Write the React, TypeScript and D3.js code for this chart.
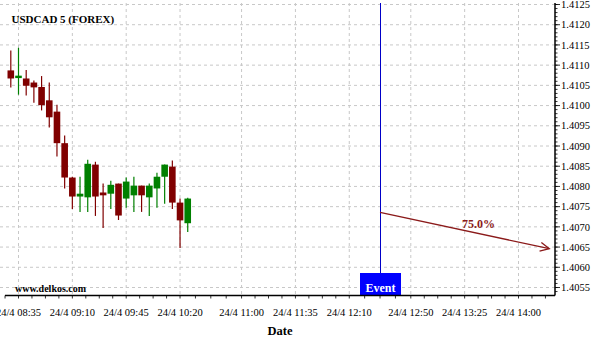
import React from "react";
import * as d3 from "d3";

const title = "USDCAD 5 (FOREX)";
const candleTimes = ["08:30","08:35","08:40","08:45","08:50","08:55","09:00","09:05","09:10","09:15","09:20","09:25","09:30","09:35","09:40","09:45","09:50","09:55","10:00","10:05","10:10","10:15","10:20","10:25"];
const opens = [1.41087,1.41068,1.41067,1.41057,1.41046,1.41013,1.40985,1.40907,1.40822,1.40775,1.40773,1.40854,1.40785,1.40782,1.40807,1.40770,1.40778,1.40802,1.40773,1.40795,1.40824,1.40849,1.40760,1.40709];
const closes = [1.41067,1.41074,1.41049,1.41045,1.41001,1.40971,1.40907,1.40822,1.40775,1.40782,1.40856,1.40775,1.40778,1.40804,1.40728,1.40812,1.40802,1.40778,1.40802,1.40824,1.40854,1.40760,1.40716,1.40770];
const highs = [1.41136,1.41143,1.41088,1.41062,1.41073,1.41057,1.41002,1.40926,1.40824,1.40824,1.40866,1.40861,1.40807,1.40814,1.40807,1.40822,1.40824,1.40802,1.40807,1.40834,1.40854,1.40864,1.40770,1.40772];
const lows = [1.41045,1.41027,1.41025,1.41007,1.40988,1.40946,1.40874,1.40795,1.40744,1.40737,1.40737,1.40727,1.40697,1.40744,1.40717,1.40747,1.40737,1.40737,1.40727,1.40747,1.40757,1.40744,1.40648,1.40687];
const xTickLabels = ["08:35","09:10","09:45","10:20","11:00","11:35","12:10","12:50","13:25","14:00"];
const yTicks = [1.4055,1.4060,1.4065,1.4070,1.4075,1.4080,1.4085,1.4090,1.4095,1.4100,1.4105,1.4110,1.4115,1.4120,1.4125];
const eventTime = "12:30";
const arrowStart = { time: "12:30", price: 1.40736 };
const arrowEnd = { time: "14:20", price: 1.40646 };
const arrowLabel = "75.0%";
const eventLabel = "Event";
const watermark = "www.delkos.com";
const xTitle = "Date";

const toMin = (s: string) => { const [h, m] = s.split(":").map(Number); return h * 60 + m; };

const SERIF = "'Liberation Serif', 'Times New Roman', serif";
const RED = "#800000";
const GREEN = "#008000";

export default function App() {
  const left = 5, right = 555, top = 3, bottom = 295.5;
  const x = d3.scaleLinear().domain([toMin("08:35"), toMin("14:00")]).range([18.5, 518.5]);
  const y = d3.scaleLinear().domain([1.4055, 1.4125]).range([287.5, 4.5]);
  const cw = 6.6;

  const labelX = xTickLabels.map((t) => x(toMin(t)));
  const minorX: number[] = [];
  for (let i = 0; i < labelX.length - 1; i++) {
    const a = labelX[i], b = labelX[i + 1];
    for (let k = 0; k < 4; k++) minorX.push(a + ((b - a) * k) / 4);
  }
  const lastStep = (labelX[labelX.length - 1] - labelX[labelX.length - 2]) / 4;
  for (let v = labelX[labelX.length - 1]; v < right; v += lastStep) minorX.push(v);
  const firstStep = (labelX[1] - labelX[0]) / 4;
  for (let v = labelX[0] - firstStep; v > left; v -= firstStep) minorX.push(v);

  const minorY: number[] = [];
  for (let p = 1.4054; p <= 1.41251; p += 0.0001) {
    const yy = y(p);
    if (yy >= top && yy <= bottom) minorY.push(yy);
  }

  const ex = Math.round(x(toMin(eventTime))) + 0.5;
  const ax1 = x(toMin(arrowStart.time)), ay1 = y(arrowStart.price);
  const ax2 = x(toMin(arrowEnd.time)), ay2 = y(arrowEnd.price);
  const ang = Math.atan2(ay2 - ay1, ax2 - ax1);
  const hl = 10, ha = 0.45;
  const h1 = [ax2 - hl * Math.cos(ang - ha), ay2 - hl * Math.sin(ang - ha)];
  const h2 = [ax2 - hl * Math.cos(ang + ha), ay2 - hl * Math.sin(ang + ha)];
  const arrowColor = "#8b1a1a";

  return (
    <svg width={600} height={340} style={{ position: "absolute", left: 0, top: 0, background: "#fff" }} fontFamily={SERIF}>
      <rect x={0} y={0} width={600} height={340} fill="#fff" />
      {yTicks.map((p, i) => (
        <line key={"gy" + i} x1={0} x2={right} y1={y(p)} y2={y(p)} stroke="#c8c8c8" strokeDasharray="3,3" strokeWidth={1} />
      ))}
      {labelX.map((v, i) => (
        <line key={"gx" + i} x1={v} x2={v} y1={top} y2={bottom} stroke="#c8c8c8" strokeDasharray="3,3" strokeWidth={1} />
      ))}
      <text x={11.5} y={23} fontSize={11} fontWeight="bold" fill="#000">{title}</text>
      {candleTimes.map((t, i) => {
        const cx = x(toMin(t));
        const o = opens[i], c = closes[i];
        const col = c >= o ? GREEN : RED;
        const yt = y(Math.max(o, c)), yb = y(Math.min(o, c));
        return (
          <g key={"c" + i}>
            <line x1={cx} x2={cx} y1={y(highs[i])} y2={y(lows[i])} stroke={col} strokeWidth={1.2} />
            <rect x={cx - cw / 2} y={yt} width={cw} height={Math.max(1.5, yb - yt)} fill={col} />
          </g>
        );
      })}
      <line x1={ex} x2={ex} y1={top} y2={273} stroke="#0000c8" strokeWidth={1} />
      <rect x={ex - 20.5} y={273} width={41} height={bottom - 273} fill="#0000ff" />
      <text x={ex} y={291.5} textAnchor="middle" fontSize={12} fontWeight="bold" fill="#fff">{eventLabel}</text>
      <line x1={ax1} y1={ay1} x2={ax2} y2={ay2} stroke={arrowColor} strokeWidth={1.3} />
      <polyline points={`${h1[0]},${h1[1]} ${ax2},${ay2} ${h2[0]},${h2[1]}`} fill="none" stroke={arrowColor} strokeWidth={1.3} />
      <text x={478.5} y={227.5} textAnchor="middle" fontSize={12} fontWeight="bold" fill={arrowColor}>{arrowLabel}</text>
      <text x={15} y={291.5} fontSize={10} fontWeight="bold" fill="#000">{watermark}</text>
      <line x1={left} x2={right} y1={bottom} y2={bottom} stroke="#000" strokeWidth={1.5} />
      <line x1={right} x2={right} y1={top} y2={bottom} stroke="#000" strokeWidth={1.5} />
      {minorX.map((v, i) => (
        <line key={"tx" + i} x1={v} x2={v} y1={bottom} y2={bottom + 3} stroke="#000" strokeWidth={0.8} />
      ))}
      {xTickLabels.map((t, i) => (
        <text key={"lx" + i} x={labelX[i]} y={316} textAnchor="middle" fontSize={10.5} fill="#000">{"24/4 " + t}</text>
      ))}
      {minorY.map((v, i) => (
        <line key={"ty" + i} x1={right} x2={right + 2.5} y1={v} y2={v} stroke="#000" strokeWidth={0.8} />
      ))}
      {yTicks.map((p, i) => (
        <g key={"ly" + i}>
          <line x1={right} x2={right + 5} y1={y(p)} y2={y(p)} stroke="#000" strokeWidth={0.8} />
          <text x={561} y={y(p)} dy="0.35em" fontSize={10.5} fill="#000">{p.toFixed(4)}</text>
        </g>
      ))}
      <text x={280} y={335} textAnchor="middle" fontSize={12.5} fontWeight="bold" fill="#000">{xTitle}</text>
    </svg>
  );
}
